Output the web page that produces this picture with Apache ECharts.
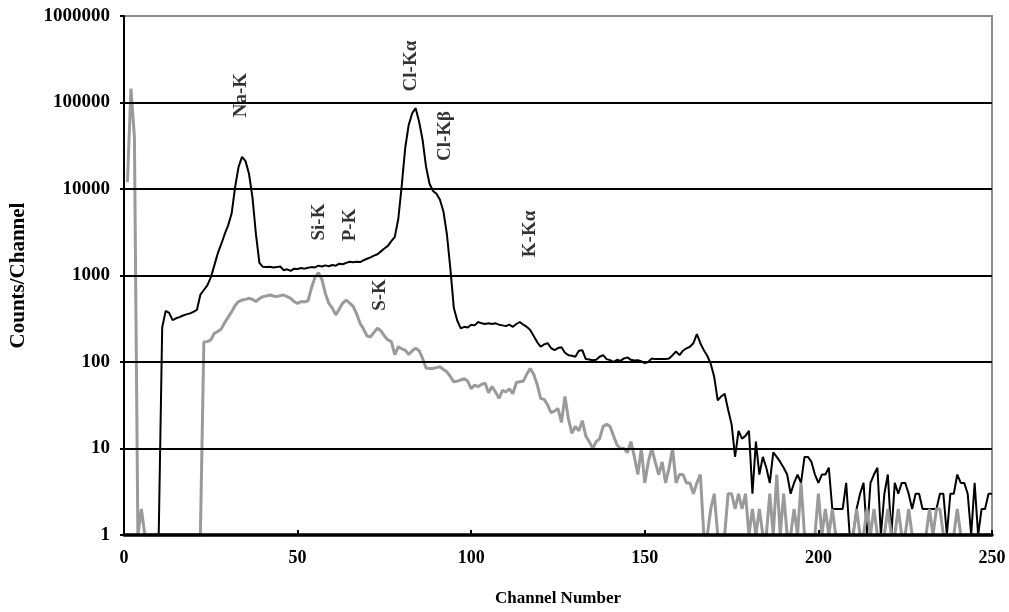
<!DOCTYPE html>
<html>
<head>
<meta charset="utf-8">
<script src="https://cdn.jsdelivr.net/npm/echarts@6/dist/echarts.min.js"></script>
<style>
html,body{margin:0;padding:0;background:#fff;}
#chart{width:1009px;height:612px;}
</style>
</head>
<body>
<div id="chart"></div>
<script>
// Channel numbers 0..250 (index of each count below)
const firstChannel = 0;

// Black spectrum counts per channel (null = not drawn)
const blackCounts = [
  null,null,null,null,null,null,null,null,null,null,
  1,250,390,370,305,320,330,345,355,365,
  380,400,600,680,770,950,1300,1800,2300,3000,
  3800,5200,10500,18000,23500,21000,15000,8000,3000,1400,
  1260,1250,1260,1240,1250,1270,1150,1180,1130,1200,
  1190,1220,1200,1230,1250,1240,1300,1270,1310,1280,
  1320,1300,1370,1350,1400,1440,1420,1440,1430,1500,
  1560,1620,1700,1760,1900,2050,2200,2500,2800,4500,
  11000,30000,55000,75000,86000,60000,37000,18000,11500,9500,
  8800,7500,5500,3000,1200,420,300,245,255,250,
  270,265,290,280,275,280,275,280,270,265,
  260,270,255,275,290,270,255,235,200,170,
  150,160,165,145,137,145,148,128,120,118,
  115,135,137,108,107,105,106,115,120,108,
  105,100,106,103,110,113,106,104,105,102,
  97,100,110,108,108,108,108,110,120,132,
  120,135,144,150,165,210,165,137,118,95,
  67,36,40,43,28,19,8,16,13,14,
  16,3,12,5,8,6,4,9,8,7,
  6,5,3,4,5,4,8,8,7,5,
  4,5,5,6,2,2,2,2,4,1,
  1,2,3,4,1,4,5,6,1,3,
  5,1,4,3,4,4,3,2,3,3,
  2,2,2,2,2,3,3,1,3,3,
  5,4,4,3,1,4,1,2,2,3,
  3
];

// Gray spectrum counts per channel (1 = at the bottom of the log axis)
const grayCounts = [
  null,12000,145000,40000,1,2,1,1,1,1,
  1,1,1,1,1,1,1,1,1,1,
  1,1,1,170,172,180,214,225,240,285,
  330,380,450,500,520,530,545,530,500,540,
  570,580,595,580,570,585,595,570,545,500,
  475,500,495,510,720,950,1080,900,620,475,
  420,350,410,480,520,480,440,360,280,240,
  200,195,220,245,230,200,180,172,122,150,
  142,137,122,135,144,135,110,85,84,84,
  86,88,82,77,68,59,60,62,64,60,
  49,54,52,55,57,44,52,45,38,47,
  45,49,43,58,59,60,72,84,72,55,
  38,37,32,26,27,29,20,40,22,15,
  18,16,21,14,12,10,12,13,18,19,
  18,14,11,10,10,9,12,8,5,10,
  4,7,10,7,5,7,4,6,10,4,
  5,5,4,4,3,4,5,1,1,2,
  3,1,1,1,3,3,2,3,2,3,
  1,2,1,2,1,1,3,1,5,1,
  3,1,1,2,1,4,1,1,1,1,
  3,1,2,1,2,1,1,1,1,1,
  1,2,1,1,2,1,2,1,1,1,
  2,1,1,2,1,1,2,1,1,1,
  1,1,2,1,2,2,1,1,1,1,
  2,1,1,1,1,1,1,1,1,1,
  1
];

// Peak annotations: label, channel, counts position
const peakLabels   = ['Na-K', 'Cl-K\u03B1', 'Cl-K\u03B2', 'Si-K', 'P-K', 'S-K', 'K-K\u03B1'];
const peakChannels = [33.7, 82.6, 92.6, 56.1, 65.0, 73.9, 117.1];
const peakCounts   = [122000, 264000, 41000, 4150, 3840, 595, 3020];

// Axis ticks
const xTicks = [0, 50, 100, 150, 200, 250];
const yTicks = [1, 10, 100, 1000, 10000, 100000, 1000000];

const toPairs = arr => arr.map((v, i) => [firstChannel + i, v]);

const FONT = 'Liberation Serif';
const chart = echarts.init(document.getElementById('chart'), null, {renderer: 'canvas'});
chart.setOption({
  animation: false,
  backgroundColor: '#ffffff',
  grid: {
    left: 123, top: 16, width: 869, height: 519,
    show: true, borderColor: '#8c8c8c', borderWidth: 2, backgroundColor: 'transparent'
  },
  xAxis: {
    type: 'value',
    min: xTicks[0], max: xTicks[xTicks.length - 1], interval: 50,
    z: 5,
    name: 'Channel Number',
    nameLocation: 'middle',
    nameGap: 55,
    nameTextStyle: {fontFamily: FONT, fontWeight: 'bold', fontSize: 17, color: '#000'},
    axisLine: {show: true, lineStyle: {color: '#000', width: 3.5}},
    axisTick: {show: true, inside: true, length: 5, lineStyle: {color: '#000', width: 2}},
    axisLabel: {fontFamily: FONT, fontWeight: 'bold', fontSize: 18, color: '#000', margin: 14},
    splitLine: {show: false}
  },
  yAxis: {
    type: 'log',
    logBase: 10,
    min: yTicks[0], max: yTicks[yTicks.length - 1],
    interval: 1,
    z: 5,
    name: 'Counts/Channel',
    nameLocation: 'middle',
    nameGap: 95,
    nameRotate: 90,
    nameTextStyle: {fontFamily: FONT, fontWeight: 'bold', fontSize: 21, color: '#000'},
    axisLine: {show: true, lineStyle: {color: '#000', width: 2}},
    axisTick: {show: true, inside: false, length: 4, lineStyle: {color: '#000', width: 2}},
    axisLabel: {
      fontFamily: FONT, fontWeight: 'bold', fontSize: 19, color: '#000', margin: 14,
      formatter: v => String(Math.round(v))
    },
    splitLine: {show: true, showMinLine: false, showMaxLine: false, lineStyle: {color: '#000', width: 2}}
  },
  series: [
    {
      name: 'Black spectrum',
      type: 'line',
      data: toPairs(blackCounts),
      showSymbol: false,
      symbol: 'none',
      connectNulls: false,
      z: 2,
      lineStyle: {color: '#000000', width: 2}
    },
    {
      name: 'Gray spectrum',
      type: 'line',
      data: toPairs(grayCounts),
      showSymbol: false,
      symbol: 'none',
      connectNulls: false,
      z: 3,
      lineStyle: {color: '#9a9a9a', width: 3}
    },
    {
      name: 'Peaks',
      type: 'scatter',
      symbolSize: 0,
      silent: true,
      z: 6,
      data: peakLabels.map((n, i) => ({name: n, value: [peakChannels[i], peakCounts[i]]})),
      label: {
        show: true,
        position: 'inside',
        rotate: 90,
        formatter: p => p.name,
        fontFamily: FONT, fontWeight: 'bold', fontSize: 19, color: '#000',
        align: 'center', verticalAlign: 'middle'
      }
    }
  ]
});
</script>
</body>
</html>
